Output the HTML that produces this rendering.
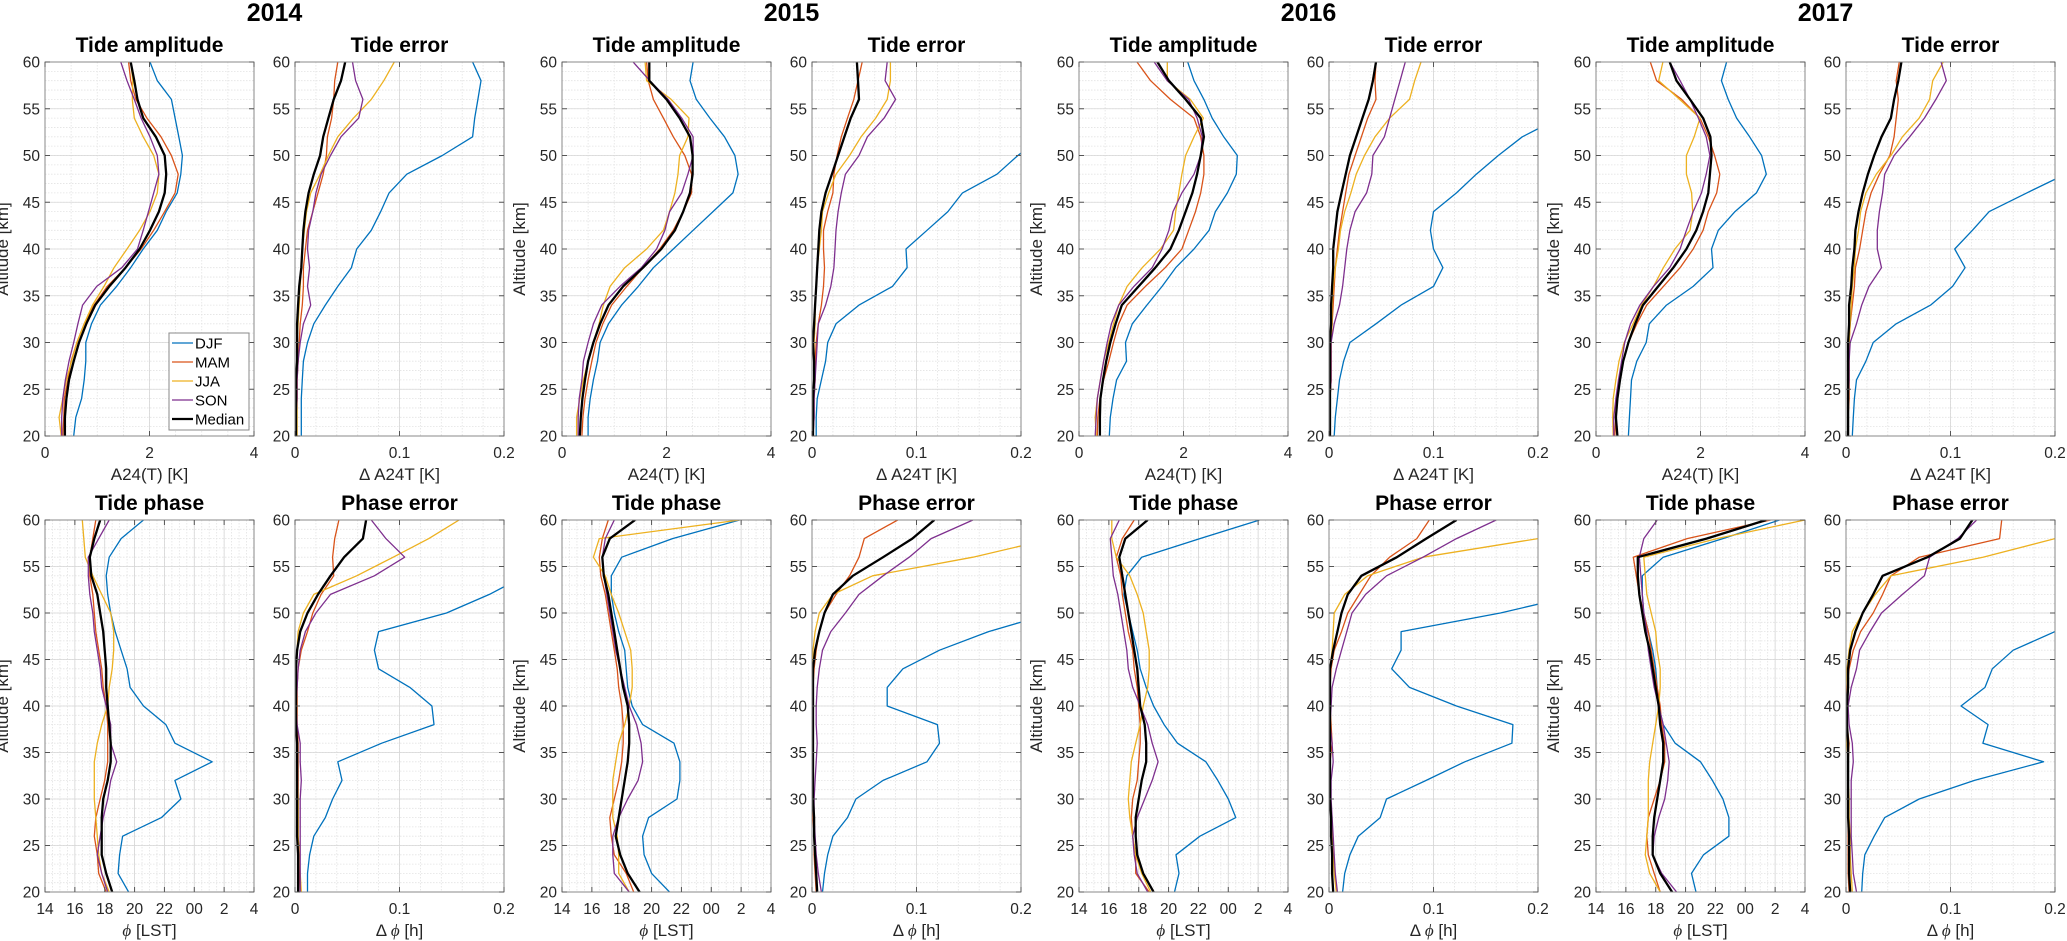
<!DOCTYPE html>
<html><head><meta charset="utf-8">
<style>
html,body{margin:0;padding:0;background:#fff;}
svg{display:block;font-family:"Liberation Sans",Arial,sans-serif;}
</style></head>
<body>
<svg id="fig" width="2067" height="941" viewBox="0 0 2067 941" xmlns="http://www.w3.org/2000/svg"></svg>
<script>
// ---- shared axes data ----
const ALT=[20,22,24,26,28,30,32,34,36,38,40,42,44,46,48,50,52,54,56,58,60];
const YEARS=['2014','2015','2016','2017'];
const SEASONS=['DJF','MAM','JJA','SON','Median'];
const COLORS=['#0072BD','#D95319','#EDB120','#7E2F8E','#000000'];
const Y_TICKS=[20,25,30,35,40,45,50,55,60];
const AMP_TICKS=[0,2,4];
const AMP_TICK_LABELS=['0','2','4'];
const ERR_TICKS=[0,0.1,0.2];
const ERR_TICK_LABELS=['0','0.1','0.2'];
const PH_TICKS=[14,16,18,20,22,24,26,28];
const PH_TICK_LABELS=['14','16','18','20','22','00','2','4'];

// ---- series (order: DJF, MAM, JJA, SON, Median), values at ALT ----
const amp2014=[
[.55,.59,.70,.75,.78,.78,.89,1.06,1.37,1.64,1.88,2.15,2.32,2.53,2.60,2.63,2.56,2.49,2.42,2.15,2.01],
[.34,.36,.37,.44,.50,.61,.75,.94,1.19,1.54,1.84,2.08,2.29,2.49,2.55,2.42,2.22,1.95,1.74,1.64,1.60],
[.31,.27,.34,.41,.51,.61,.75,.91,1.13,1.32,1.57,1.81,2.01,2.15,2.18,2.08,1.88,1.71,1.67,1.68,1.64],
[.32,.32,.34,.39,.46,.55,.63,.72,.99,1.47,1.77,1.88,1.98,2.08,2.18,2.15,2.01,1.84,1.71,1.57,1.45],
[.38,.38,.41,.46,.55,.65,.79,.96,1.23,1.54,1.81,2.01,2.18,2.29,2.32,2.29,2.12,1.88,1.77,1.71,1.64]];
const err2014=[
[.006,.006,.006,.007,.008,.012,.018,.029,.041,.054,.059,.073,.082,.09,.107,.141,.17,.172,.175,.178,.17],
[.001,.001,.002,.002,.003,.004,.005,.007,.008,.008,.01,.012,.017,.022,.027,.03,.031,.035,.037,.038,.041],
[.002,.002,.002,.002,.002,.002,.003,.004,.005,.006,.007,.009,.011,.015,.024,.032,.041,.056,.073,.085,.095],
[.001,.001,.002,.002,.003,.005,.008,.015,.012,.014,.012,.013,.017,.02,.025,.034,.044,.061,.065,.058,.055],
[.001,.001,.001,.001,.002,.002,.002,.003,.004,.006,.007,.008,.01,.013,.018,.024,.027,.032,.037,.044,.048]];
const ph2014=[
[19.6,18.9,19.0,19.2,21.8,23.1,22.7,25.2,22.7,22.1,20.6,19.7,19.5,19.1,18.7,18.4,18.2,18.1,18.3,19.1,20.6],
[18.1,17.6,17.5,17.3,17.4,17.7,18.0,18.2,18.2,18.2,18.1,17.9,17.8,17.6,17.4,17.3,17.2,17.0,17.0,17.2,17.4],
[18.3,17.8,17.6,17.5,17.4,17.3,17.3,17.3,17.5,17.8,18.2,18.3,18.5,18.6,18.6,18.4,17.8,17.2,16.7,16.6,16.5],
[18.2,17.8,17.5,17.7,17.9,18.2,18.4,18.8,18.4,18.4,18.1,17.8,17.7,17.5,17.3,17.2,17.0,16.9,16.9,17.6,18.3],
[18.5,18.1,17.8,17.8,17.8,17.9,18.2,18.4,18.4,18.3,18.2,18.1,18.1,18.0,17.9,17.7,17.5,17.1,17.0,17.3,17.7]];
const perr2014=[
[.012,.012,.014,.018,.029,.036,.045,.041,.083,.133,.131,.11,.08,.076,.08,.145,.186,.22,.26,.3,.34],
[.005,.004,.004,.003,.003,.003,.003,.003,.003,.002,.002,.002,.003,.006,.012,.017,.025,.037,.036,.038,.042],
[.006,.005,.004,.003,.003,.003,.002,.002,.002,.001,.001,.001,.001,.002,.003,.008,.018,.059,.094,.128,.157],
[.005,.005,.005,.005,.005,.005,.006,.005,.005,.002,.001,.002,.003,.005,.01,.02,.034,.076,.105,.087,.073],
[.003,.003,.003,.002,.002,.002,.002,.002,.002,.001,.001,.001,.001,.002,.005,.012,.022,.034,.047,.065,.068]];

const amp2015=[
[.5,.5,.54,.6,.68,.73,.89,1.14,1.46,1.75,2.13,2.51,2.89,3.27,3.37,3.31,3.11,2.83,2.57,2.45,2.51],
[.38,.4,.44,.5,.57,.65,.78,.95,1.24,1.55,1.87,2.13,2.32,2.48,2.48,2.35,2.13,1.94,1.75,1.65,1.62],
[.28,.28,.34,.41,.5,.6,.71,.79,.92,1.2,1.62,1.94,2.06,2.16,2.22,2.25,2.41,2.43,2.09,1.62,1.59],
[.31,.31,.33,.38,.41,.5,.6,.76,1.11,1.52,1.81,1.97,2.06,2.29,2.41,2.51,2.51,2.29,2.03,1.68,1.36],
[.34,.36,.39,.44,.5,.6,.73,.89,1.17,1.55,1.9,2.16,2.32,2.45,2.5,2.5,2.45,2.25,2.0,1.67,1.67]];
const err2015=[
[.004,.004,.005,.009,.013,.015,.023,.045,.077,.091,.09,.11,.13,.144,.177,.197,.22,.25,.28,.31,.34],
[.001,.002,.002,.003,.003,.004,.006,.009,.011,.012,.011,.011,.015,.02,.021,.024,.028,.034,.04,.044,.048],
[.001,.001,.001,.002,.002,.002,.003,.003,.004,.005,.007,.009,.01,.016,.023,.036,.047,.061,.072,.075,.075],
[.001,.002,.002,.003,.004,.005,.006,.013,.018,.021,.022,.023,.025,.028,.032,.045,.053,.069,.08,.07,.072],
[.001,.001,.001,.002,.002,.001,.002,.003,.004,.005,.006,.007,.009,.013,.019,.025,.031,.037,.045,.044,.043]];
const ph2015=[
[21.2,20.0,19.5,19.4,19.8,21.7,21.9,21.9,21.5,19.4,18.7,18.4,18.3,18.2,17.8,17.5,17.3,17.3,18.0,21.4,25.9],
[18.8,18.3,17.5,17.3,17.2,17.5,17.8,18.0,18.1,18.1,18.0,17.8,17.7,17.5,17.3,17.1,16.9,16.6,16.5,16.7,17.1],
[18.5,17.8,17.8,17.7,17.4,17.4,17.4,17.6,17.8,18.2,18.5,18.7,18.7,18.6,18.2,17.8,17.3,16.9,16.1,16.5,25.9],
[18.5,17.5,17.4,17.4,17.8,18.4,19.1,19.4,19.3,19.0,18.5,18.2,17.9,17.6,17.4,17.2,17.0,16.8,16.7,16.9,17.5],
[19.2,18.4,17.9,17.6,17.8,18.0,18.2,18.4,18.5,18.5,18.4,18.1,17.9,17.7,17.5,17.3,17.1,16.8,16.7,17.2,18.9]];
const perr2015=[
[.01,.012,.015,.02,.034,.042,.068,.11,.122,.12,.072,.072,.087,.122,.169,.23,.27,.3,.33,.36,.4],
[.004,.003,.002,.002,.001,.001,.001,.001,.001,.001,.001,.001,.002,.004,.007,.012,.023,.036,.045,.05,.082],
[.005,.004,.003,.002,.002,.001,.001,.001,.001,.001,.001,.001,.001,.001,.003,.007,.02,.058,.154,.23,.27],
[.009,.006,.004,.003,.002,.002,.003,.004,.005,.004,.004,.005,.007,.01,.018,.032,.045,.068,.093,.114,.154],
[.005,.004,.003,.002,.002,.001,.001,.001,.001,.001,.001,.001,.001,.003,.007,.012,.02,.039,.068,.096,.117]];

const amp2016=[
[.58,.6,.65,.72,.91,.89,1.02,1.3,1.59,1.85,2.2,2.49,2.61,2.84,3.01,3.03,2.77,2.55,2.39,2.2,2.08],
[.35,.36,.4,.47,.57,.66,.76,.92,1.27,1.65,1.97,2.1,2.23,2.33,2.39,2.39,2.33,2.2,1.75,1.37,1.11],
[.33,.31,.35,.41,.47,.57,.66,.76,.92,1.21,1.56,1.81,1.85,1.91,1.97,2.04,2.2,2.38,2.13,1.69,1.69],
[.31,.33,.35,.41,.47,.54,.62,.76,1.05,1.4,1.59,1.72,1.8,1.97,2.2,2.33,2.36,2.26,2.1,1.69,1.44],
[.4,.4,.41,.46,.52,.6,.7,.82,1.14,1.46,1.75,1.91,2.04,2.17,2.26,2.33,2.39,2.33,2.04,1.72,1.5]];
const err2016=[
[.005,.006,.008,.01,.014,.02,.045,.069,.1,.109,.1,.097,.1,.122,.141,.162,.185,.22,.25,.28,.31],
[.001,.001,.001,.002,.002,.002,.003,.004,.005,.006,.008,.01,.013,.016,.019,.025,.031,.037,.045,.044,.045],
[.001,.001,.001,.002,.002,.002,.003,.003,.004,.006,.009,.011,.015,.021,.026,.034,.044,.058,.077,.082,.088],
[.001,.001,.001,.002,.002,.002,.005,.01,.013,.015,.017,.02,.025,.036,.041,.042,.053,.058,.063,.068,.073],
[.001,.001,.001,.001,.001,.001,.002,.002,.003,.004,.004,.006,.008,.012,.016,.02,.026,.032,.038,.042,.045]];
const ph2016=[
[20.4,20.7,20.5,22.1,24.5,24.0,23.3,22.5,20.6,19.7,19.0,18.5,18.1,17.9,17.6,17.3,17.0,17.2,18.2,22.1,26.1],
[18.7,17.8,17.8,17.6,17.5,17.6,17.9,18.0,18.1,18.1,18.0,17.9,17.7,17.6,17.3,17.1,16.9,16.8,16.5,16.9,17.7],
[18.8,18.2,17.8,17.6,17.4,17.3,17.4,17.5,17.8,18.1,18.3,18.6,18.7,18.7,18.5,18.3,17.9,17.4,16.5,16.2,16.2],
[18.6,17.9,17.7,17.6,17.9,18.4,18.9,19.3,18.9,18.6,18.1,17.6,17.3,17.2,17.0,16.8,16.6,16.3,16.2,16.1,16.7],
[19.0,18.3,17.9,17.8,17.8,18.0,18.2,18.5,18.5,18.4,18.1,18.0,17.9,17.7,17.5,17.3,17.1,16.9,16.7,17.1,18.6]];
const perr2016=[
[.013,.015,.02,.028,.049,.055,.093,.13,.175,.176,.122,.077,.06,.069,.069,.164,.24,.28,.32,.36,.4],
[.004,.003,.003,.002,.002,.001,.001,.001,.003,.002,.001,.001,.002,.005,.012,.018,.029,.04,.058,.084,.096],
[.007,.005,.004,.003,.002,.001,.001,.001,.001,.001,.0,.001,.001,.003,.004,.005,.015,.037,.09,.2,.26],
[.008,.006,.005,.004,.003,.002,.002,.004,.003,.001,.002,.003,.007,.012,.017,.022,.035,.055,.09,.122,.16],
[.004,.003,.003,.002,.002,.001,.001,.001,.001,.001,.001,.001,.001,.004,.008,.012,.018,.031,.065,.093,.122]];

const amp2017=[
[.62,.64,.66,.68,.78,.96,1.02,1.35,1.86,2.24,2.21,2.34,2.66,3.07,3.26,3.17,2.94,2.69,2.53,2.4,2.5],
[.36,.38,.39,.46,.52,.62,.78,.97,1.29,1.61,1.86,2.05,2.15,2.31,2.37,2.27,2.15,1.99,1.64,1.16,1.04],
[.33,.32,.33,.38,.44,.54,.71,.87,1.1,1.29,1.51,1.8,1.85,1.83,1.73,1.73,1.88,1.99,1.6,1.2,1.28],
[.34,.34,.38,.43,.49,.55,.66,.84,1.1,1.41,1.61,1.73,1.86,2.02,2.11,2.18,2.11,1.96,1.8,1.61,1.41],
[.41,.38,.41,.46,.52,.62,.75,.9,1.19,1.48,1.73,1.92,2.05,2.15,2.18,2.21,2.19,2.05,1.8,1.54,1.41]];
const err2017=[
[.006,.007,.008,.01,.019,.026,.048,.081,.102,.114,.104,.121,.137,.173,.21,.25,.29,.33,.37,.41,.45],
[.002,.002,.003,.003,.003,.003,.004,.006,.008,.009,.013,.016,.019,.024,.032,.042,.046,.048,.05,.048,.051],
[.002,.002,.002,.002,.002,.003,.004,.005,.006,.008,.009,.012,.014,.019,.029,.043,.054,.07,.08,.083,.093],
[.002,.002,.002,.003,.003,.004,.01,.015,.022,.034,.03,.03,.032,.035,.037,.046,.061,.075,.086,.096,.091],
[.002,.002,.002,.002,.002,.002,.003,.003,.005,.006,.008,.009,.012,.016,.021,.027,.034,.043,.046,.05,.053]];
const ph2017=[
[20.7,20.4,21.2,22.9,22.9,22.5,21.8,21.0,19.3,18.5,18.2,18.1,18.0,17.8,17.5,17.2,17.1,17.1,18.5,22.5,26.3],
[18.3,17.9,17.5,17.4,17.5,17.9,18.3,18.6,18.6,18.4,18.3,18.1,17.9,17.7,17.5,17.2,16.9,16.7,16.5,20.1,25.7],
[18.3,17.6,17.3,17.4,17.5,17.5,17.5,17.6,17.8,18.0,18.2,18.3,18.3,18.1,18.0,17.7,17.4,17.3,17.2,22.1,28.0],
[19.4,18.4,17.8,17.9,18.2,18.6,18.8,18.9,18.7,18.5,18.2,17.9,17.7,17.5,17.4,17.2,17.1,17.0,16.9,17.2,18.1],
[19.1,18.3,17.8,17.8,17.9,18.1,18.3,18.5,18.5,18.3,18.2,18.0,17.8,17.6,17.3,17.1,16.9,16.8,16.8,21.4,25.4]];
const perr2017=[
[.015,.016,.018,.027,.037,.07,.123,.189,.131,.136,.11,.133,.14,.16,.2,.24,.28,.32,.36,.4,.44],
[.003,.002,.002,.002,.002,.002,.002,.002,.003,.001,.001,.001,.003,.007,.014,.026,.035,.043,.07,.147,.149],
[.006,.005,.004,.004,.003,.003,.002,.002,.001,.001,.0,.0,.001,.003,.006,.016,.028,.043,.131,.2,.24],
[.01,.007,.006,.005,.005,.005,.005,.007,.006,.003,.002,.005,.01,.013,.023,.034,.054,.075,.08,.107,.125],
[.004,.003,.003,.003,.002,.002,.002,.002,.002,.001,.001,.002,.002,.004,.009,.016,.026,.035,.078,.109,.121]];

const DATA={amp:[amp2014,amp2015,amp2016,amp2017],err:[err2014,err2015,err2016,err2017],
  ph:[ph2014,ph2015,ph2016,ph2017],perr:[perr2014,perr2015,perr2016,perr2017]};

const NS='http://www.w3.org/2000/svg';
const svg=document.getElementById('fig');
function el(tag,attrs,parent){const e=document.createElementNS(NS,tag);for(const k in attrs)e.setAttribute(k,attrs[k]);(parent||svg).appendChild(e);return e;}
function txt(str,attrs,parent){const t=el('text',attrs,parent);t.textContent=str;return t;}

const DEFS={
 amp:{min:0,max:4,ticks:AMP_TICKS,labels:AMP_TICK_LABELS,minor:0.5,title:'Tide amplitude',xlabel:'A24(T) [K]'},
 err:{min:0,max:0.2,ticks:ERR_TICKS,labels:ERR_TICK_LABELS,minor:0.02,title:'Tide error',xlabel:'\u0394 A24T [K]'},
 ph:{min:14,max:28,ticks:PH_TICKS,labels:PH_TICK_LABELS,minor:0.5,title:'Tide phase',xlabel:'phi'},
 perr:{min:0,max:0.2,ticks:ERR_TICKS,labels:ERR_TICK_LABELS,minor:0.02,title:'Phase error',xlabel:'dphi'}
};
const defs=el('defs',{});
let clipId=0;

function panel(kind,yi,px,py,w,h,showY,legend){
  const d=DEFS[kind];
  const g=el('g',{});
  
  
  const X=v=>px+(v-d.min)/(d.max-d.min)*w;
  const Y=a=>py+(60-a)/40*h;
  // minor grid
  const nx=Math.round((d.max-d.min)/d.minor);
  for(let i=1;i<nx;i++){const xx=X(d.min+i*d.minor);
    el('line',{x1:xx,x2:xx,y1:py,y2:py+h,stroke:'#e3e3e3','stroke-width':0.8,'stroke-dasharray':'1.5,1.5'},g);}
  for(let a=21;a<60;a++){const yy=Y(a);
    el('line',{x1:px,x2:px+w,y1:yy,y2:yy,stroke:'#e3e3e3','stroke-width':0.8,'stroke-dasharray':'1.5,1.5'},g);}
  // major grid
  d.ticks.forEach(t=>{if(t>d.min&&t<d.max){const xx=X(t);el('line',{x1:xx,x2:xx,y1:py,y2:py+h,stroke:'#d6d6d6','stroke-width':0.8},g);}});
  Y_TICKS.forEach(a=>{if(a>20&&a<60){const yy=Y(a);el('line',{x1:px,x2:px+w,y1:yy,y2:yy,stroke:'#d6d6d6','stroke-width':0.8},g);}});
  // clip
  const cid='c'+(clipId++);
  const cp=el('clipPath',{id:cid},defs);
  el('rect',{x:px,y:py,width:w,height:h},cp);
  // series
  const series=DATA[kind][yi];
  const sg=el('g',{'clip-path':'url(#'+cid+')'},g);
  series.forEach((vals,si)=>{
    const pts=vals.map((v,i)=>X(v).toFixed(1)+','+Y(ALT[i]).toFixed(1)).join(' ');
    const pl=el('polyline',{points:pts,fill:'none',stroke:COLORS[si],'stroke-width':si===4?2.3:1.3,'stroke-linejoin':'round'},sg);
    
    
  });
  // box
  const box=el('rect',{x:px,y:py,width:w,height:h,fill:'none',stroke:'#8a8a8a','stroke-width':1},g);
  
  
  // ticks
  Y_TICKS.forEach(a=>{const yy=Y(a);
    el('line',{x1:px,x2:px+5,y1:yy,y2:yy,stroke:'#555','stroke-width':1},g);
    el('line',{x1:px+w-5,x2:px+w,y1:yy,y2:yy,stroke:'#555','stroke-width':1},g);
    const t=txt(String(a),{x:px-5,y:yy+5.5,'font-size':15.5,'text-anchor':'end',fill:'#262626'},g);
    
    
  });
  d.ticks.forEach((tv,i)=>{const xx=X(tv);
    el('line',{x1:xx,x2:xx,y1:py+h,y2:py+h-5,stroke:'#555','stroke-width':1},g);
    el('line',{x1:xx,x2:xx,y1:py,y2:py+5,stroke:'#555','stroke-width':1},g);
    const t=txt(d.labels[i],{x:xx,y:py+h+22,'font-size':15.5,'text-anchor':'middle',fill:'#262626'},g);
    
    
  });
  // title
  const tt=txt(d.title,{x:px+w/2,y:py-10,'font-size':21,'font-weight':'bold','text-anchor':'middle',fill:'#000'},g);
  
  
  // xlabel
  const xl=el('text',{x:px+w/2,y:py+h+44,'font-size':17,'text-anchor':'middle',fill:'#262626'},g);
  
  
  if(kind==='ph'){const s=el('tspan',{'font-style':'italic','font-family':'"Liberation Serif",serif'},xl);s.textContent='\u03d5';const s2=el('tspan',{},xl);s2.textContent=' [LST]';}
  else if(kind==='perr'){const s0=el('tspan',{},xl);s0.textContent='\u0394 ';const s=el('tspan',{'font-style':'italic','font-family':'"Liberation Serif",serif'},xl);s.textContent='\u03d5';const s2=el('tspan',{},xl);s2.textContent=' [h]';}
  else xl.textContent=d.xlabel;
  if(showY){
    const cx=px-37, cy=py+h/2;
    const yl=txt('Altitude [km]',{x:cx,y:cy,'font-size':17,'text-anchor':'middle',fill:'#262626',transform:'rotate(-90 '+cx+' '+cy+')'},g);
    
    
  }
  if(legend){
    const lg=el('g',{},g);
    
    
    el('rect',{x:169,y:333,width:80,height:97,fill:'#fff',stroke:'#8a8a8a','stroke-width':1},lg);
    SEASONS.forEach((s,i)=>{const yy=343+i*19;
      el('line',{x1:172,x2:193,y1:yy,y2:yy,stroke:COLORS[i],'stroke-width':i===4?2.3:1.3},lg);
      const t=txt(s,{x:195,y:yy+5.5,'font-size':15,fill:'#000'},lg);
      
      
    });
  }
}

YEARS.forEach((yr,yi)=>{
  const gx=yi*517;
  const yt=txt(yr,{x:gx+274.5,y:21,'font-size':25,'font-weight':'bold','text-anchor':'middle',fill:'#000'});
  
  
  panel('amp',yi,gx+45,62,209,374,true,yi===0);
  panel('err',yi,gx+295,62,209,374,false,false);
  panel('ph',yi,gx+45,520,209,372,true,false);
  panel('perr',yi,gx+295,520,209,372,false,false);
});
</script>
</body></html>
